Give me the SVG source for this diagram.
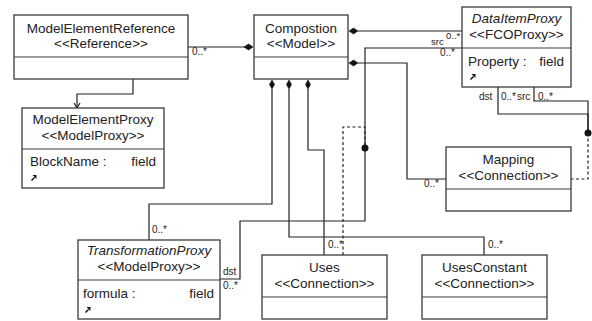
<svg xmlns="http://www.w3.org/2000/svg" xmlns:xlink="http://www.w3.org/1999/xlink" width="592" height="321" viewBox="0 0 592 321">
<style>
.box{fill:#fff;stroke:#3a3a3a;stroke-width:1.3}
.div{stroke:#3a3a3a;stroke-width:1.2}
.t{font-family:"Liberation Sans",Arial,sans-serif;font-size:13.5px;fill:#222;text-anchor:middle}
.i{font-style:italic}
.f{font-family:"Liberation Sans",Arial,sans-serif;font-size:13.5px;fill:#222}
.fe{text-anchor:end}
.l{font-family:"Liberation Sans",Arial,sans-serif;font-size:10px;fill:#222}
.c{fill:none;stroke:#222;stroke-width:1.2}
.d{fill:none;stroke:#222;stroke-width:1.2;stroke-dasharray:3,2.5}
.dm{fill:#111;stroke:#111;stroke-width:0.6}
</style>
<defs>
<g id="ico"><path d="M0.5,5.5 L3.5,2.5" stroke="#111" stroke-width="1.5"/><path d="M1.5,0 L5.5,0 L5.5,4 Z" fill="#111"/></g>
</defs>
<rect width="592" height="321" fill="#fff"/>

<g id="connectors">
<!-- ModelElementReference -> Compostion -->
<path class="c" d="M188,47 H245"/>
<path class="dm" d="M253,47 L248.5,44 L244,47 L248.5,50 Z"/>
<text class="l" x="192" y="55">0..*</text>
<!-- ModelElementReference -> ModelElementProxy -->
<path class="c" d="M133,79 V94 H77 V107"/>
<path class="c" d="M74,103 L77,108 L80,103"/>
<!-- Compostion -> DataItemProxy -->
<path class="c" d="M358,31 H462"/>
<path class="dm" d="M349,31 L353.5,28 L358,31 L353.5,34 Z"/>
<text class="l" x="446" y="39" style="font-size:9.5px">0..*</text>
<text class="l" x="431" y="45" style="font-size:9.5px">src</text>
<!-- DataItemProxy -> TransformationProxy (Uses) -->
<path class="c" d="M462,48 H365 V221 H240 V279 H220"/>
<text class="l" x="440" y="56">0..*</text>
<text class="l" x="223" y="275">dst</text>
<text class="l" x="223" y="289">0..*</text>
<circle cx="365" cy="148" r="3.5" fill="#111"/>
<path class="d" d="M343,255 V127 H365 V148"/>
<!-- Compostion -> Mapping -->
<path class="c" d="M358,63 H407 V179 H446"/>
<path class="dm" d="M349,63 L353.5,60 L358,63 L353.5,66 Z"/>
<text class="l" x="424" y="187">0..*</text>
<!-- DataItemProxy self (Mapping) -->
<path class="c" d="M498,87 V114 H588 V133"/>
<path class="c" d="M534,87 V101 H588 V133"/>
<circle cx="588" cy="133" r="3.5" fill="#111"/>
<path class="d" d="M588,133 V179 H571"/>
<text class="l" x="479" y="100">dst</text>
<text class="l" x="501" y="100">0..*</text>
<text class="l" x="517" y="100">src</text>
<text class="l" x="538" y="100">0..*</text>
<!-- Compostion -> TransformationProxy -->
<path class="c" d="M272,89 V204 H149 V240"/>
<path class="dm" d="M272,80 L269.5,84.5 L272,89 L274.5,84.5 Z"/>
<text class="l" x="152" y="233">0..*</text>
<!-- Compostion -> UsesConstant -->
<path class="c" d="M289,89 V237 H484 V255"/>
<path class="dm" d="M289,80 L286.5,84.5 L289,89 L291.5,84.5 Z"/>
<text class="l" x="488" y="248">0..*</text>
<!-- Compostion -> Uses -->
<path class="c" d="M308,89 V150 H324 V255"/>
<path class="dm" d="M308,80 L305.5,84.5 L308,89 L310.5,84.5 Z"/>
<text class="l" x="328" y="248">0..*</text>
</g>

<g id="ModelElementReference">
<rect class="box" x="14" y="15" width="174" height="64"/>
<line class="div" x1="14" y1="57" x2="188" y2="57"/>
<text class="t" x="101" y="33">ModelElementReference</text>
<text class="t" x="101" y="48">&lt;&lt;Reference&gt;&gt;</text>
</g>

<g id="Compostion">
<rect class="box" x="254" y="15" width="94" height="64"/>
<line class="div" x1="254" y1="57" x2="348" y2="57"/>
<text class="t" x="301" y="33">Compostion</text>
<text class="t" x="301" y="48">&lt;&lt;Model&gt;&gt;</text>
</g>

<g id="DataItemProxy">
<rect class="box" x="462" y="7" width="109" height="80"/>
<line class="div" x1="462" y1="48" x2="571" y2="48"/>
<text class="t i" x="516.5" y="23">DataItemProxy</text>
<text class="t" x="516.5" y="39">&lt;&lt;FCOProxy&gt;&gt;</text>
<text class="f" x="468" y="66">Property :</text>
<text class="f fe" x="564" y="66">field</text>
<use xlink:href="#ico" x="470" y="74"/>
</g>

<g id="ModelElementProxy">
<rect class="box" x="22" y="108" width="142" height="80"/>
<line class="div" x1="22" y1="149" x2="164" y2="149"/>
<text class="t" x="93" y="124">ModelElementProxy</text>
<text class="t" x="93" y="140">&lt;&lt;ModelProxy&gt;&gt;</text>
<text class="f" x="30" y="166">BlockName :</text>
<text class="f fe" x="156" y="166">field</text>
<use xlink:href="#ico" x="31" y="175"/>
</g>

<g id="Mapping">
<rect class="box" x="446" y="147" width="125" height="64"/>
<line class="div" x1="446" y1="189" x2="571" y2="189"/>
<text class="t" x="508.5" y="164">Mapping</text>
<text class="t" x="508.5" y="180">&lt;&lt;Connection&gt;&gt;</text>
</g>

<g id="TransformationProxy">
<rect class="box" x="78" y="240" width="142" height="79"/>
<line class="div" x1="78" y1="280" x2="220" y2="280"/>
<text class="t i" x="149" y="255">TransformationProxy</text>
<text class="t" x="149" y="271">&lt;&lt;ModelProxy&gt;&gt;</text>
<text class="f" x="83" y="298">formula :</text>
<text class="f fe" x="214" y="298">field</text>
<use xlink:href="#ico" x="85" y="307"/>
</g>

<g id="Uses">
<rect class="box" x="262" y="255" width="125" height="64"/>
<line class="div" x1="262" y1="297" x2="387" y2="297"/>
<text class="t" x="324.5" y="272">Uses</text>
<text class="t" x="324.5" y="288">&lt;&lt;Connection&gt;&gt;</text>
</g>

<g id="UsesConstant">
<rect class="box" x="422" y="255" width="125" height="64"/>
<line class="div" x1="422" y1="297" x2="547" y2="297"/>
<text class="t" x="484.5" y="272">UsesConstant</text>
<text class="t" x="484.5" y="288">&lt;&lt;Connection&gt;&gt;</text>
</g>
</svg>
